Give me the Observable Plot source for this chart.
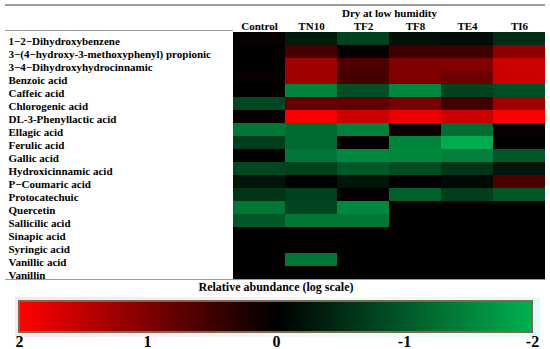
<!DOCTYPE html>
<html>
<head>
<meta charset="utf-8">
<script src="https://cdn.jsdelivr.net/npm/d3@7"></script>
<script src="https://cdn.jsdelivr.net/npm/@observablehq/plot@0.6"></script>
<style>
  html, body { margin: 0; padding: 0; background: #fff; }
  #wrap { position: relative; width: 550px; height: 349px; overflow: hidden;
          font-family: "Liberation Serif", serif; color: #000; }
  #wrap svg, #wrap svg text { font-family: "Liberation Serif", serif !important; }
  .abs { position: absolute; }
  #legend line { display: none; }
  #legend svg { overflow: visible; }
</style>
</head>
<body>
<div id="wrap"></div>
<script>
// ---- data ----
const columns = ["Control", "TN10", "TF2", "TF8", "TE4", "TI6"];
const compounds = [
  "1\u22122\u2212Dihydroxybenzene",
  "3\u2212(4\u2212hydroxy-3-methoxyphenyl) propionic",
  "3\u22124\u2212Dihydroxyhydrocinnamic",
  "Benzoic acid",
  "Caffeic acid",
  "Chlorogenic acid",
  "DL-3-Phenyllactic acid",
  "Ellagic acid",
  "Ferulic acid",
  "Gallic acid",
  "Hydroxicinnamic acid",
  "P\u2212Coumaric acid",
  "Protocatechuic",
  "Quercetin",
  "Sallicilic acid",
  "Sinapic acid",
  "Syringic acid",
  "Vanillic acid",
  "Vanillin"
];
// relative abundance (log scale), one array per column, in compound order
const control = [0.05, 0, 0, 0.05, 0, -0.8, 0.05, -1.35, -0.7, 0, -0.8, -0.25, -0.6, -1.35, -1.0, 0, 0, 0, 0];
const tn10    = [-0.3, 0.55, 1.25, 1.25, -1.5, 0.8, 1.95, -1.2, -1.2, -1.35, -0.75, 0, -0.75, -0.8, -1.35, 0, 0, -1.35, 0];
const tf2     = [-0.75, 0.05, 0.6, 0.55, -0.9, 0.75, 1.6, -1.45, 0, -1.55, -1.0, -0.25, 0, -1.55, -1.35, 0, 0, 0, 0];
const tf8     = [-0.2, 0.5, 1.0, 1.0, -1.55, 0.95, 1.85, 0.1, -1.5, -1.55, -0.85, 0, -1.1, 0, 0, 0, 0, 0, 0];
const te4     = [-0.15, 0.5, 1.0, 0.85, -0.75, 0.5, 1.6, -1.25, -1.95, -1.45, -0.6, -0.1, -0.7, 0, 0, 0, 0, 0, 0];
const ti6     = [-0.5, 1.1, 1.6, 1.6, -0.9, 1.25, 2.0, 0.05, 0, -1.0, -0.25, 0.6, -1.0, 0, 0, 0, 0, 0, 0];
const legendTicks = [2, 1, 0, -1, -2];

const series = [control, tn10, tf2, tf8, te4, ti6];
const table = [];
columns.forEach((c, j) => compounds.forEach((m, i) => table.push({column: c, compound: m, value: series[j][i]})));

const RED = "#ff0000", BLACK = "#000000", GREEN = "#00b050";
const FONT = "'Liberation Serif', serif";

const wrap = document.getElementById("wrap");

// ---- main heatmap ----
const plot = Plot.plot({
  width: 550,
  height: 282,
  marginLeft: 233,
  marginRight: 5,
  marginTop: 32,
  marginBottom: 3,
  style: {fontFamily: FONT, fontWeight: "bold", fontSize: "11px", color: "#000", background: "transparent", overflow: "visible"},
  x: {domain: columns, padding: 0, axis: null},
  y: {domain: compounds, padding: 0, axis: null},
  color: {type: "linear", domain: [-2, 0, 2], range: [GREEN, BLACK, RED], clamp: true},
  marks: [
    Plot.cell(table, {x: "column", y: "compound", fill: "value", inset: 0, shapeRendering: "crispEdges"}),
    Plot.axisX({anchor: "top", tickSize: 0, tickPadding: 3, label: null}),
    Plot.axisY({anchor: "left", tickSize: 0, tickPadding: 3, textAnchor: "start", dx: -222, dy: 2, label: null}),
    Plot.text(["Dry at low humidity"], {text: d => d, frameAnchor: "top", lineAnchor: "middle", dy: -19})
  ]
});
plot.classList.add("abs");
plot.style.left = "0px";
plot.style.top = "0px";
wrap.appendChild(plot);

// decorative table rules
function rule(left, top, width, px, color) {
  const d = document.createElement("div");
  d.className = "abs";
  Object.assign(d.style, {left: left + "px", top: top + "px", width: width + "px", height: "0px", borderTop: px + "px solid " + color});
  wrap.appendChild(d);
}
rule(5, 4, 540, 2, "#9c9c9c");
rule(5, 30, 228, 1, "#9a9a9a");
rule(5, 279, 540, 1, "#9a9a9a");

// ---- legend ----
const title = document.createElement("div");
title.className = "abs";
Object.assign(title.style, {left: "0px", top: "281px", width: "552px", textAlign: "center", fontWeight: "bold", fontSize: "12px", lineHeight: "13px"});
title.textContent = "Relative abundance (log scale)";
wrap.appendChild(title);

const halo = document.createElement("div");
halo.className = "abs";
Object.assign(halo.style, {left: "15px", top: "297px", width: "525px", height: "40px",
  background: "linear-gradient(to right, #fbe4f2, #fbeef6 40%, #eefbfb 60%, #e2fafa)"});
wrap.appendChild(halo);

const legHolder = document.createElement("div");
legHolder.id = "legend";
legHolder.className = "abs";
Object.assign(legHolder.style, {left: "0px", top: "299px"});
const legend = Plot.legend({
  color: {type: "linear", domain: [2, 0, -2], range: [RED, BLACK, GREEN]},
  width: 550,
  height: 50,
  marginTop: 2,
  marginBottom: 16,
  marginLeft: 19,
  marginRight: 18,
  ticks: legendTicks,
  tickSize: 0,
  tickFormat: d => String(d),
  label: null,
  style: {fontFamily: FONT, fontWeight: "bold", fontSize: "16px", color: "#000", background: "transparent", overflow: "visible"}
});
legHolder.appendChild(legend);
wrap.appendChild(legHolder);

const border = document.createElement("div");
border.className = "abs";
Object.assign(border.style, {left: "18px", top: "300px", width: "515px", height: "33px", boxSizing: "border-box",
  border: "2px solid #7b6a4c"});
wrap.appendChild(border);
</script>
</body>
</html>
